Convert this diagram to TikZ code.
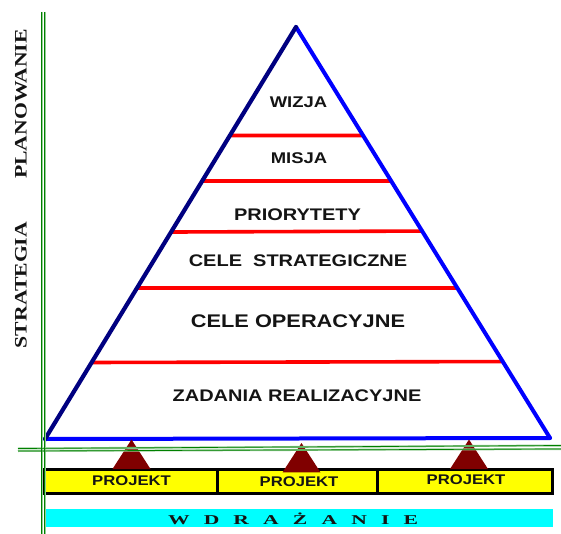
\documentclass[tikz,border=0pt]{standalone}
\usepackage{fontspec}
\usetikzlibrary{calc}
\newfontfamily\pyrfont{Liberation Sans}[FakeStretch=1.19]
\newfontfamily\sidefont{Liberation Serif}[FakeStretch=1.24]
\newfontfamily\wdrfont{Liberation Serif}[FakeStretch=1.6]
\definecolor{navyedge}{RGB}{0,0,128}
\definecolor{blueedge}{RGB}{0,0,255}
\definecolor{redline}{RGB}{255,0,0}
\definecolor{projred}{RGB}{128,0,0}
\definecolor{barfill}{RGB}{255,255,0}
\definecolor{cyanbar}{RGB}{0,255,255}
\definecolor{gridgreen}{RGB}{0,128,0}
\definecolor{gridhalo}{RGB}{150,205,150}
\definecolor{textdark}{RGB}{20,20,20}
\begin{document}
\begin{tikzpicture}[x=1pt,y=-1pt,
  lvl/.style={inner sep=0pt, text=textdark, font={\pyrfont\bfseries\fontsize{16.8}{18}\selectfont}},
  lvlsmall/.style={lvl, font={\pyrfont\bfseries\fontsize{15.5}{17}\selectfont}},
  lvlbig/.style={lvl, font={\pyrfont\bfseries\fontsize{18.3}{20}\selectfont}},
  sidelabel/.style={inner sep=0pt, rotate=90, text=textdark, font={\sidefont\bfseries\fontsize{17.5}{19}\selectfont}},
  projlabel/.style={inner sep=0pt, text=textdark, font={\pyrfont\bfseries\fontsize{14}{16}\selectfont}},
  redrule/.style={draw=redline, line width=3.6pt},
  projtri/.style={fill=projred},
  gridhaloline/.style={draw=gridhalo, line width=2pt},
  gridline/.style={draw=gridgreen, line width=0.7pt}
]
\useasboundingbox (0,0) rectangle (561,534);

% pyramid corners
\coordinate (apex) at (296,27);
\coordinate (bl) at (45,439);
\coordinate (br) at (550,438);

% red level lines
\coordinate (r1l) at ($(apex)!0.2633!(bl)$);
\coordinate (r1r) at ($(apex)!0.2640!(br)$);
\coordinate (r2l) at ($(apex)!0.3738!(bl)$);
\coordinate (r2r) at ($(apex)!0.3747!(br)$);
\coordinate (r3l) at ($(apex)!0.4976!(bl)$);
\coordinate (r3r) at ($(apex)!0.4965!(br)$);
\coordinate (r4l) at ($(apex)!0.6335!(bl)$);
\coordinate (r4r) at ($(apex)!0.6350!(br)$);
\coordinate (r5l) at ($(apex)!0.8143!(bl)$);
\coordinate (r5r) at ($(apex)!0.8140!(br)$);
\draw[redrule] (r1l) -- (r1r);
\draw[redrule] (r2l) -- (r2r);
\draw[redrule] (r3l) -- (r3r);
\draw[redrule] (r4l) -- (r4r);
\draw[redrule] (r5l) -- (r5r);

% pyramid outline
\draw[blueedge, line width=4pt, line cap=round] (bl) -- (br);
\draw[blueedge, line width=4pt, line cap=round, line join=round] (apex) -- (br);
\draw[navyedge, line width=4.2pt, line cap=round] (apex) -- (bl);

% level labels
\node[lvlsmall] (wizja) at (298.5,102) {WIZJA};
\node[lvlsmall] (misja) at (299,158.5) {MISJA};
\node[lvl] (prio) at (297.5,215) {PRIORYTETY};
\node[lvl] (strat) at (298,260.5) {CELE\ \ STRATEGICZNE};
\node[lvlbig] (oper) at (298,321) {CELE OPERACYJNE};
\node[lvl] (zad) at (297,396) {ZADANIA REALIZACYJNE};

% side labels
\node[sidelabel] (plan) at (21,104) {PLANOWANIE};
\node[sidelabel] (strategia) at (21,285) {STRATEGIA};

% cyan bar
\fill[cyanbar] (45,509) rectangle (553,527);
\node[inner sep=0pt, text=textdark, font={\wdrfont\bfseries\fontsize{13.5}{15}\selectfont}] (wdr) at (293,518.5)
  {\makebox[250pt][s]{W\hfill D\hfill R\hfill A\hfill Ż\hfill A\hfill N\hfill I\hfill E}};

% projects bar
\coordinate (pb1) at (44.5,469);
\coordinate (pb2) at (552,493.5);
\coordinate (d1t) at (217.5,469);
\coordinate (d1b) at (217.5,493.5);
\coordinate (d2t) at (377.5,469);
\coordinate (d2b) at (377.5,493.5);
\filldraw[fill=barfill, draw=black, line width=3pt] (pb1) rectangle (pb2);
\draw[black, line width=3pt] (d1t) -- (d1b);
\draw[black, line width=3pt] (d2t) -- (d2b);
\node[projlabel] (p1) at (131.5,480.2) {PROJEKT};
\node[projlabel] (p2) at (299,481.9) {PROJEKT};
\node[projlabel] (p3) at (466,480) {PROJEKT};

% project triangles
\fill[projtri] (131.5,439.5) -- (150.5,469) -- (112.5,469) -- cycle;
\fill[projtri] (301.5,443) -- (320.5,472.4) -- (282.5,472.4) -- cycle;
\fill[projtri] (469,439.5) -- (488,469) -- (450,469) -- cycle;

% green guide lines
\coordinate (v1t) at (41.5,12);
\coordinate (v1b) at (41.5,534);
\coordinate (v2t) at (44.5,12);
\coordinate (v2b) at (44.5,534);
\coordinate (h1l) at (18,448.5);
\coordinate (h1r) at (561,445.5);
\coordinate (h2l) at (18,451);
\coordinate (h2r) at (561,449);
\draw[gridhaloline] (v1t) -- (v1b);
\draw[gridhaloline] (v2t) -- (v2b);
\draw[gridhaloline] (h1l) -- (h1r);
\draw[gridhaloline] (h2l) -- (h2r);
\draw[gridline] (v1t) -- (v1b);
\draw[gridline] (v2t) -- (v2b);
\draw[gridline] (h1l) -- (h1r);
\draw[gridline] (h2l) -- (h2r);
\end{tikzpicture}
\end{document}
